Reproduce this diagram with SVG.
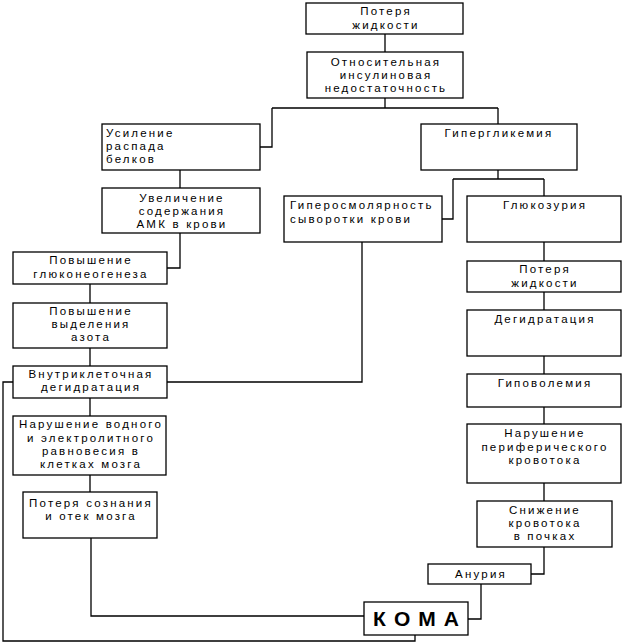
<svg xmlns="http://www.w3.org/2000/svg" width="625" height="643" viewBox="0 0 625 643">
<style>
rect{fill:#fff;stroke:#000;stroke-width:1.3}
.c path{fill:none;stroke:#000;stroke-width:1.3}
text{font-family:"Liberation Sans",Arial,sans-serif;font-size:11.5px;letter-spacing:2.2px;fill:#000}
.m{text-anchor:middle}
.k{font-size:21px;font-weight:bold;letter-spacing:8px}
</style>
<rect x="0" y="0" width="625" height="643" style="fill:#fff;stroke:none"/>
<g class="c">
<path d="M385 34V52M385 98V108M272 108H498M272 108V147H260M498 108V124"/>
<path d="M180 170V188M180 233V268H167M90 284V303M90 348V366"/>
<path d="M498 170V179M453 179H544M453 179V219H442M544 179V196"/>
<path d="M362 242V382H167M13 382H3V641H415V635"/>
<path d="M90 398V416M90 475V492M91 538V616H364"/>
<path d="M544 242V261M544 292V310M544 356V374M544 407V424M544 483V501M544 547V574H531M481 584V619H468"/>
</g>
<g id="n1"><rect x="306" y="3" width="157" height="31"/><text class="m" x="386" y="15">Потеря</text><text class="m" x="386" y="28.5">жидкости</text></g>
<g id="n2"><rect x="307" y="52" width="156" height="46"/><text class="m" x="386" y="66">Относительная</text><text class="m" x="386" y="79">инсулиновая</text><text class="m" x="386" y="92">недостаточность</text></g>
<g id="n3"><rect x="102" y="124" width="158" height="46"/><text x="106" y="137">Усиление</text><text x="106" y="150">распада</text><text x="106" y="163">белков</text></g>
<g id="n4"><rect x="102" y="188" width="158" height="45"/><text class="m" x="182" y="202">Увеличение</text><text class="m" x="182" y="215">содержания</text><text class="m" x="182" y="228">АМК в крови</text></g>
<g id="n5"><rect x="421" y="124" width="156" height="46"/><text class="m" x="499" y="137">Гипергликемия</text></g>
<g id="n6"><rect x="284" y="196" width="158" height="46"/><text x="290" y="209">Гиперосмолярность</text><text x="290" y="223">сыворотки крови</text></g>
<g id="n7"><rect x="467" y="196" width="154" height="46"/><text class="m" x="545" y="209">Глюкозурия</text></g>
<g id="n8"><rect x="13" y="252" width="154" height="32"/><text class="m" x="91" y="264">Повышение</text><text class="m" x="91" y="278">глюконеогенеза</text></g>
<g id="n9"><rect x="13" y="303" width="154" height="45"/><text class="m" x="91" y="315">Повышение</text><text class="m" x="91" y="328">выделения</text><text class="m" x="91" y="341">азота</text></g>
<g id="n10"><rect x="13" y="366" width="154" height="32"/><text class="m" x="91" y="378">Внутриклеточная</text><text class="m" x="91" y="391">дегидратация</text></g>
<g id="n11"><rect x="13" y="416" width="153" height="59"/><text class="m" x="91" y="428">Нарушение водного</text><text class="m" x="91" y="442">и электролитного</text><text class="m" x="91" y="455">равновесия в</text><text class="m" x="91" y="468">клетках мозга</text></g>
<g id="n12"><rect x="23" y="492" width="134" height="46"/><text class="m" x="91" y="507">Потеря сознания</text><text class="m" x="91" y="520">и отек мозга</text></g>
<g id="n13"><rect x="467" y="261" width="154" height="31"/><text class="m" x="545" y="273">Потеря</text><text class="m" x="545" y="286.5">жидкости</text></g>
<g id="n14"><rect x="467" y="310" width="154" height="46"/><text class="m" x="545" y="323">Дегидратация</text></g>
<g id="n15"><rect x="467" y="374" width="154" height="33"/><text class="m" x="545" y="387">Гиповолемия</text></g>
<g id="n16"><rect x="467" y="424" width="154" height="59"/><text class="m" x="545" y="437">Нарушение</text><text class="m" x="545" y="451">периферического</text><text class="m" x="545" y="464">кровотока</text></g>
<g id="n17"><rect x="477" y="501" width="135" height="46"/><text class="m" x="545" y="514">Снижение</text><text class="m" x="545" y="527">кровотока</text><text class="m" x="545" y="540">в почках</text></g>
<g id="n18"><rect x="428" y="564" width="103" height="20"/><text class="m" x="481" y="578">Анурия</text></g>
<g id="n19"><rect x="364" y="602" width="104" height="33"/><text class="m k" x="420" y="626">КОМА</text></g>
</svg>
